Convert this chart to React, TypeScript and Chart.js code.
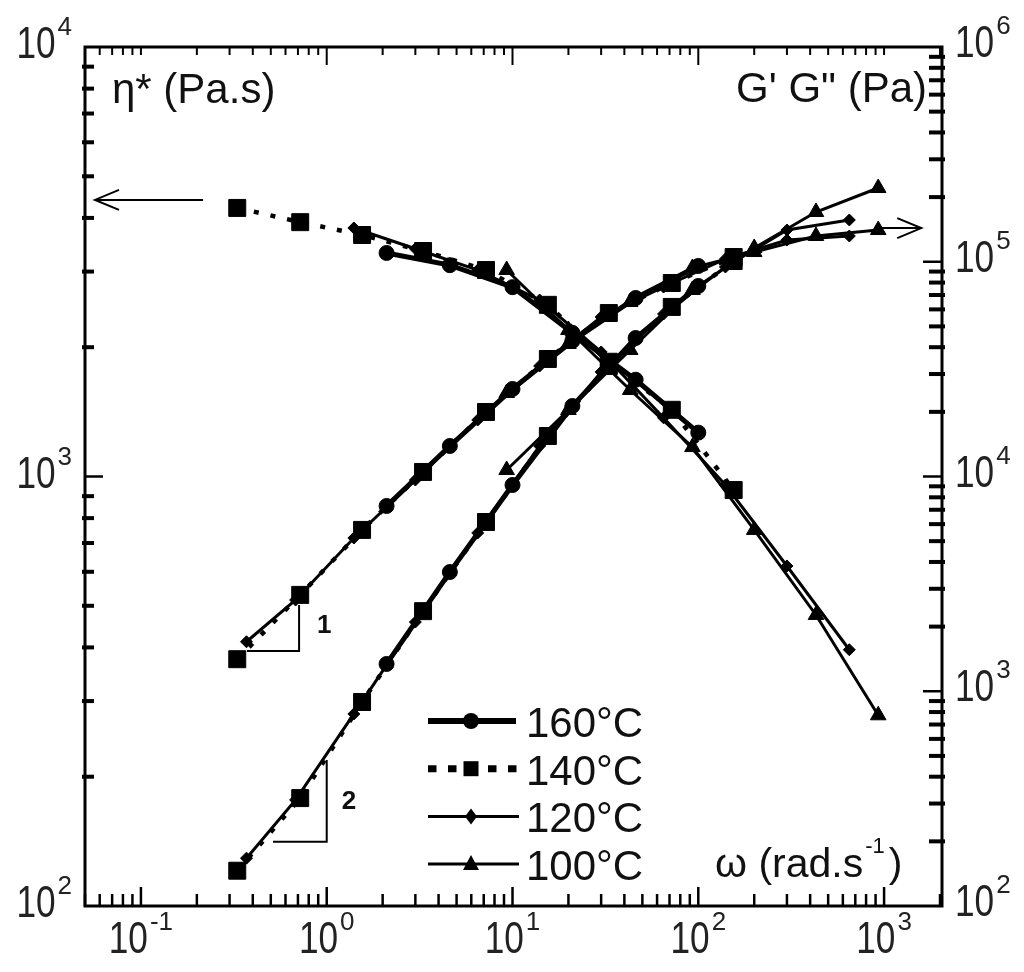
import React, { useEffect, useRef } from 'react';
import { Chart, registerables } from 'chart.js';

Chart.register(...registerables);

// ---------------- data ----------------
// 160 °C (circles, thick solid line)
const omega160 = [2.1, 4.6, 10, 21, 46, 100];
const eta160 = [3315, 3105, 2760, 2160, 1680, 1265];
const gpp160 = [7290, 13870, 25560, 42760, 67800, 95550];
const gp160 = [1340, 3590, 9130, 21290, 44150, 77120];

// 140 °C (squares, dotted line)
const omega140 = [0.33, 0.72, 1.55, 3.3, 7.2, 15.5, 33, 72, 155];
const eta140 = [4220, 3910, 3650, 3350, 3025, 2510, 1850, 1430, 930];
const gpp140 = [1410, 2810, 5640, 10500, 19970, 35260, 57700, 79600, 105200];
const gp140 = [146, 318, 891, 2360, 6140, 15440, 32700, 61600, 100800];

// 120 °C (small diamonds, thin line)
const omega120Eta = [1.4, 3, 6.5, 14, 30, 65, 140, 300, 650];
const eta120 = [3790, 3390, 3025, 2576, 1950, 1370, 955, 619, 395];
const omega120 = [0.37, 0.68, 1.4, 3, 6.5, 14, 30, 65, 140, 300, 650];
const gpp120 = [1700, 2660, 5170, 9630, 18330, 32700, 55290, 76280, 103000, 126300, 131800];
const gp120 = [167, 312, 784, 2100, 5460, 13870, 30670, 57100, 94540, 140500, 156500];

// 100 °C (triangles, thin line)
const omega100 = [9.3, 20, 43, 93, 200, 430, 930];
const eta100 = [3025, 2193, 1590, 1171, 751, 476, 278];
const gpp100 = [24480, 41400, 64940, 93520, 111000, 131800, 140500];
const gp100 = [10720, 20400, 38830, 73880, 115900, 170500, 220500];

const legendLabels = ['160°C', '140°C', '120°C', '100°C'];

// tick labels
const xTickValues = [0.1, 1, 10, 100, 1000];
const xTickExps = ['-1', '0', '1', '2', '3'];
const leftTickValues = [100, 1000, 10000];
const leftTickExps = ['2', '3', '4'];
const rightTickValues = [100, 1000, 10000, 100000, 1000000];
const rightTickExps = ['2', '3', '4', '5', '6'];

// annotation anchors (data space)
const slope1Omega = [0.372, 0.71];
const slope1G = [1540, 2520];
const slope2Omega = [0.514, 1.0];
const slope2G = [199, 479];
const etaArrowOmega = [0.216, 0.0566];
const etaArrowValue = 4405;
const gArrowOmega = [955, 1585];
const gArrowValue = 143500;

const FONT = "'Liberation Sans', Arial, Helvetica, sans-serif";

const pts = (xs: number[], ys: number[]) => xs.map((x, i) => ({ x, y: ys[i] }));

type Sty = { borderWidth: number; pointStyle: string; pointRadius: number; borderDash: number[] };
const S160: Sty = { borderWidth: 5, pointStyle: 'circle', pointRadius: 7.5, borderDash: [] };
const S140: Sty = { borderWidth: 4.5, pointStyle: 'rect', pointRadius: 12, borderDash: [5, 12] };
const S120: Sty = { borderWidth: 3, pointStyle: 'rectRot', pointRadius: 6, borderDash: [] };
const S100: Sty = { borderWidth: 3, pointStyle: 'triangle', pointRadius: 9, borderDash: [] };

function ds(label: string, xs: number[], ys: number[], axis: string, s: Sty) {
  return {
    label,
    data: pts(xs, ys),
    yAxisID: axis,
    showLine: true,
    borderColor: '#000',
    backgroundColor: '#000',
    pointBackgroundColor: '#000',
    pointBorderColor: '#000',
    pointBorderWidth: 1,
    borderWidth: s.borderWidth,
    borderDash: s.borderDash,
    pointStyle: s.pointStyle,
    pointRadius: s.pointRadius,
    pointHoverRadius: s.pointRadius,
    tension: 0,
  };
}

function drawPow(ctx: CanvasRenderingContext2D, exp: string, x: number, y: number, align: string) {
  const sq = 0.8;
  ctx.font = `44px ${FONT}`;
  const mainW = ctx.measureText('10').width * sq;
  ctx.font = `26px ${FONT}`;
  const supW = ctx.measureText(exp).width;
  const gap = 2;
  const total = mainW + gap + supW;
  const x0 = align === 'left' ? x : align === 'right' ? x - total : x - total / 2;
  ctx.textAlign = 'left';
  ctx.textBaseline = 'alphabetic';
  ctx.save();
  ctx.translate(x0, y);
  ctx.scale(sq, 1);
  ctx.font = `44px ${FONT}`;
  ctx.fillText('10', 0, 0);
  ctx.restore();
  ctx.font = `26px ${FONT}`;
  ctx.fillText(exp, x0 + mainW + gap, y - 23);
}

const overlay = {
  id: 'overlay',
  afterDraw(chart: any) {
    const ctx: CanvasRenderingContext2D = chart.ctx;
    const a = chart.chartArea;
    const sx = chart.scales.x;
    const sl = chart.scales.y;
    const sr = chart.scales.y2;
    ctx.save();
    ctx.fillStyle = '#000';
    ctx.strokeStyle = '#000';
    ctx.setLineDash([]);
    ctx.lineCap = 'butt';
    const line = (x1: number, y1: number, x2: number, y2: number, w: number) => {
      ctx.lineWidth = w;
      ctx.beginPath();
      ctx.moveTo(x1, y1);
      ctx.lineTo(x2, y2);
      ctx.stroke();
    };

    // x ticks (bottom and top, inward)
    for (let d = -2; d <= 3; d++) {
      for (let m = 1; m <= 9; m++) {
        const v = m * Math.pow(10, d);
        if (v < sx.min || v > sx.max) continue;
        const px = sx.getPixelForValue(v);
        const major = m === 1;
        line(px, a.bottom, px, a.bottom - (major ? 19 : 12), 2.5);
        const topLong = major && d >= 0 && d <= 2;
        line(px, a.top, px, a.top + (topLong ? 18 : 8), 2);
      }
    }
    // left ticks
    for (let d = 2; d <= 3; d++) {
      for (let m = 1; m <= 9; m++) {
        const v = m * Math.pow(10, d);
        if (v <= sl.min * 1.001 || v >= sl.max * 0.999) continue;
        const py = sl.getPixelForValue(v);
        if (m === 1) line(a.left, py, a.left + 18, py, 2.5);
        else line(a.left - 3, py, a.left + 9, py, 4);
      }
    }
    // right ticks
    for (let d = 2; d <= 5; d++) {
      for (let m = 1; m <= 9; m++) {
        const v = m * Math.pow(10, d);
        if (v <= sr.min * 1.001 || v >= sr.max * 0.999) continue;
        const py = sr.getPixelForValue(v);
        if (m === 1) line(a.right, py, a.right - 19, py, 2.5);
        else line(a.right + 3, py, a.right - 13, py, 4);
      }
    }
    // frame
    ctx.lineWidth = 3;
    ctx.strokeRect(a.left, a.top, a.right - a.left, a.bottom - a.top);

    // tick labels
    ctx.fillStyle = '#222';
    xTickValues.forEach((v, i) => drawPow(ctx, xTickExps[i], sx.getPixelForValue(v), a.bottom + 47, 'center'));
    leftTickValues.forEach((v, i) => drawPow(ctx, leftTickExps[i], a.left - 13, sl.getPixelForValue(v) + 11, 'right'));
    rightTickValues.forEach((v, i) => drawPow(ctx, rightTickExps[i], a.right + 13, sr.getPixelForValue(v) + 10, 'left'));

    // axis titles inside the frame
    ctx.fillStyle = '#111';
    ctx.font = `42px ${FONT}`;
    ctx.textAlign = 'left';
    ctx.fillText('η* (Pa.s)', a.left + 27, a.top + 56);
    ctx.textAlign = 'right';
    ctx.fillText('G\' G" (Pa)', a.right - 15, a.top + 55);
    ctx.textAlign = 'left';
    const wx = a.left + 630;
    const wy = a.bottom - 29;
    ctx.font = `41px ${FONT}`;
    const part1 = 'ω (rad.s';
    ctx.fillText(part1, wx, wy);
    const w1 = ctx.measureText(part1).width;
    ctx.font = `22px ${FONT}`;
    ctx.fillText('-1', wx + w1 + 2, wy - 24);
    const w2 = ctx.measureText('-1').width;
    ctx.font = `41px ${FONT}`;
    ctx.fillText(')', wx + w1 + w2 + 6, wy);

    // slope triangles
    ctx.strokeStyle = '#000';
    ctx.lineWidth = 2;
    const tri = (om: number[], g: number[]) => {
      const x1 = sx.getPixelForValue(om[0]);
      const x2 = sx.getPixelForValue(om[1]);
      const y1 = sr.getPixelForValue(g[0]);
      const y2 = sr.getPixelForValue(g[1]);
      ctx.beginPath();
      ctx.moveTo(x1, y1);
      ctx.lineTo(x2, y1);
      ctx.lineTo(x2, y2);
      ctx.stroke();
      return { x2, y1, y2 };
    };
    ctx.fillStyle = '#111';
    ctx.font = `bold 26px ${FONT}`;
    const t1 = tri(slope1Omega, slope1G);
    ctx.fillText('1', t1.x2 + 18, (t1.y1 + t1.y2) / 2 + 5);
    const t2 = tri(slope2Omega, slope2G);
    ctx.fillText('2', t2.x2 + 15, (t2.y1 + t2.y2) / 2 + 8);

    // arrows
    const arrow = (xFrom: number, xTo: number, y: number) => {
      line(xFrom, y, xTo, y, 2);
      const dir = xTo < xFrom ? 1 : -1;
      ctx.beginPath();
      ctx.moveTo(xTo + dir * 24, y - 10);
      ctx.lineTo(xTo, y);
      ctx.lineTo(xTo + dir * 24, y + 10);
      ctx.stroke();
    };
    arrow(sx.getPixelForValue(etaArrowOmega[0]), sx.getPixelForValue(etaArrowOmega[1]), sl.getPixelForValue(etaArrowValue));
    arrow(sx.getPixelForValue(gArrowOmega[0]), sx.getPixelForValue(gArrowOmega[1]), sr.getPixelForValue(gArrowValue));

    // legend
    const lx0 = a.left + 343;
    const lx1 = a.left + 431;
    const mx = a.left + 386;
    const tx = a.left + 441;
    const rowY0 = a.bottom - 185;
    const step = 47.7;
    legendLabels.forEach((lab, i) => {
      const y = rowY0 + i * step;
      ctx.fillStyle = '#000';
      ctx.strokeStyle = '#000';
      if (i === 0) {
        line(lx0, y, lx1, y, 6);
        ctx.beginPath();
        ctx.arc(mx, y, 8, 0, Math.PI * 2);
        ctx.fill();
      } else if (i === 1) {
        ctx.setLineDash([8.5, 11.5]);
        line(lx0, y, lx1 + 2, y, 7);
        ctx.setLineDash([]);
        ctx.fillRect(mx - 7.5, y - 7.5, 15, 15);
      } else if (i === 2) {
        line(lx0, y, lx1 + 3, y, 3);
        ctx.beginPath();
        ctx.moveTo(mx, y - 8);
        ctx.lineTo(mx + 6, y);
        ctx.lineTo(mx, y + 8);
        ctx.lineTo(mx - 6, y);
        ctx.closePath();
        ctx.fill();
      } else {
        line(lx0, y, lx1 + 3, y, 3);
        ctx.beginPath();
        ctx.moveTo(mx, y - 9);
        ctx.lineTo(mx + 8, y + 6);
        ctx.lineTo(mx - 8, y + 6);
        ctx.closePath();
        ctx.fill();
      }
      ctx.fillStyle = '#111';
      ctx.font = `42px ${FONT}`;
      ctx.textAlign = 'left';
      ctx.fillText(lab, tx, y + 16);
    });

    ctx.restore();
  },
};

export default function App() {
  const ref = useRef<HTMLCanvasElement>(null);
  useEffect(() => {
    if (!ref.current) return;
    const datasets: any[] = [
      ds('160°C η*', omega160, eta160, 'y', S160),
      ds('160°C G"', omega160, gpp160, 'y2', S160),
      ds("160°C G'", omega160, gp160, 'y2', S160),
      ds('140°C η*', omega140, eta140, 'y', S140),
      ds('140°C G"', omega140, gpp140, 'y2', S140),
      ds("140°C G'", omega140, gp140, 'y2', S140),
      ds('120°C η*', omega120Eta, eta120, 'y', S120),
      ds('120°C G"', omega120, gpp120, 'y2', S120),
      ds("120°C G'", omega120, gp120, 'y2', S120),
      ds('100°C η*', omega100, eta100, 'y', S100),
      ds('100°C G"', omega100, gpp100, 'y2', S100),
      ds("100°C G'", omega100, gp100, 'y2', S100),
    ];
    const chart = new Chart(ref.current, {
      type: 'scatter',
      data: { datasets },
      options: {
        animation: false,
        responsive: false,
        devicePixelRatio: 1,
        layout: { padding: { left: 85, top: 47, right: 82, bottom: 66 } },
        plugins: { legend: { display: false }, tooltip: { enabled: false } },
        events: [],
        scales: {
          x: { type: 'logarithmic', min: 0.05, max: 2050, display: false },
          y: { type: 'logarithmic', min: 100, max: 10000, display: false },
          y2: { type: 'logarithmic', min: 100, max: 1000000, display: false, position: 'right' },
        },
      } as any,
      plugins: [overlay],
    });
    return () => chart.destroy();
  }, []);
  return (
    <div style={{ position: 'fixed', left: 0, top: 0, width: 1024, height: 972, background: '#fff' }}>
      <canvas ref={ref} width={1024} height={972} style={{ display: 'block', width: 1024, height: 972 }} />
    </div>
  );
}
